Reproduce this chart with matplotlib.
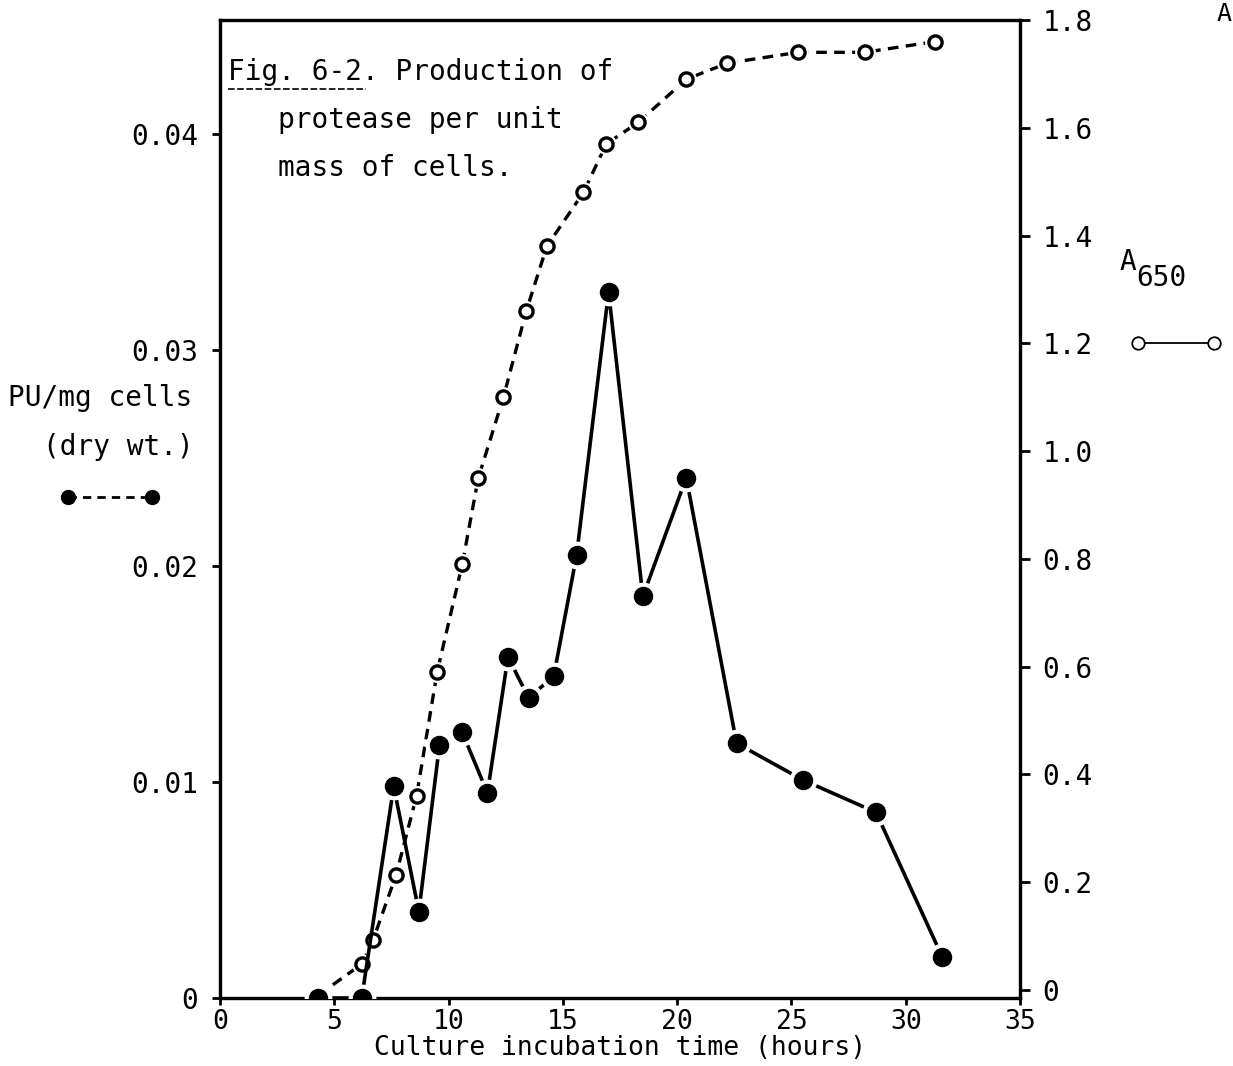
import matplotlib
matplotlib.use("Agg")
import matplotlib.pyplot as plt
from matplotlib.lines import Line2D

# ---- data ----
# filled circles, solid line (left axis, PU/mg cells)
pu_hours = [4.3, 6.2, 7.6, 8.7, 9.6, 10.6, 11.7, 12.6, 13.5, 14.6, 15.6, 17.0,
            18.5, 20.4, 22.6, 25.5, 28.7, 31.6]
pu_values = [0.0, 0.0, 0.0098, 0.0040, 0.0117, 0.0123, 0.0095, 0.0158, 0.0139,
             0.0149, 0.0205, 0.0327, 0.0186, 0.0241, 0.0118, 0.0101, 0.0086, 0.0019]

# open circles, dashed line (right axis, A650)
a_hours = [4.3, 6.2, 6.7, 7.7, 8.6, 9.5, 10.6, 11.3, 12.4, 13.4, 14.3, 15.9,
           16.9, 18.3, 20.4, 22.2, 25.3, 28.2, 31.3]
a_values = [-0.01, 0.048, 0.093, 0.213, 0.36, 0.59, 0.79, 0.95, 1.10, 1.26, 1.38,
            1.48, 1.57, 1.61, 1.69, 1.72, 1.74, 1.74, 1.76]

x_ticks = [0, 5, 10, 15, 20, 25, 30, 35]
left_ticks = [0, 0.01, 0.02, 0.03, 0.04]
left_labels = ["0", "0.01", "0.02", "0.03", "0.04"]
right_ticks = [0, 0.2, 0.4, 0.6, 0.8, 1.0, 1.2, 1.4, 1.6, 1.8]
right_labels = ["0", "0.2", "0.4", "0.6", "0.8", "1.0", "1.2", "1.4", "1.6", "1.8"]

FONT = "DejaVu Sans Mono"
plt.rcParams["font.family"] = [FONT, "DejaVu Sans"]

W, H = 1233, 1066
fig = plt.figure(figsize=(W / 100, H / 100), dpi=100)
fig.patch.set_facecolor("white")

def fx(px):
    return px / W

def fy(py):
    return 1 - py / H

ax = fig.add_axes([fx(220), fy(998), fx(1020) - fx(220), fy(20) - fy(998)])
ax2 = ax.twinx()

ax.set_xlim(0, 35)
ax.set_ylim(0, 0.0453)
ax2.set_ylim(-0.015, 1.8)

for a in (ax, ax2):
    for s in a.spines.values():
        s.set_linewidth(2.3)
        s.set_color("black")

# solid line with filled circles (left axis)
ax.plot(pu_hours, pu_values, color="black", lw=2.6, solid_capstyle="butt", zorder=3)
ax.plot(pu_hours, pu_values, "o", ms=19, mfc="white", mec="white", zorder=4)
ax.plot(pu_hours, pu_values, "o", ms=13, mfc="black", mec="black", zorder=5)

# dashed line with open circles (right axis)
ax2.plot(a_hours, a_values, color="black", lw=2.4, dashes=(3.2, 2.2), zorder=3)
ax2.plot(a_hours[1:], a_values[1:], "o", ms=14, mfc="white", mec="white", zorder=4)
ax2.plot(a_hours[1:], a_values[1:], "o", ms=9.5, mfc="white", mec="black", mew=2.4, zorder=5)
ax2.set_zorder(ax.get_zorder() - 1)
ax.patch.set_visible(False)

ax.set_xticks(x_ticks)
ax.set_xticklabels([str(t) for t in x_ticks], fontsize=19)
ax.set_yticks(left_ticks)
ax.set_yticklabels(left_labels, fontsize=20)
ax2.set_yticks(right_ticks)
ax2.set_yticklabels(right_labels, fontsize=20)

ax.tick_params(axis="x", direction="out", length=5, width=2, pad=3)
ax.tick_params(axis="y", direction="out", length=6, width=2, pad=10)
ax2.tick_params(axis="y", direction="out", length=7, width=2, pad=9)

ax.set_xlabel("Culture incubation time (hours)", fontsize=19, labelpad=0)

# in-plot caption
ax.text(fx(228), fy(72), "Fig. 6-2. Production of", transform=fig.transFigure,
        fontsize=20, ha="left", va="center")
ax.text(fx(278), fy(120), "protease per unit", transform=fig.transFigure,
        fontsize=20, ha="left", va="center")
ax.text(fx(278), fy(168), "mass of cells.", transform=fig.transFigure,
        fontsize=20, ha="left", va="center")
fig.add_artist(Line2D([fx(228), fx(366)], [fy(89), fy(89)], transform=fig.transFigure,
                      color="black", lw=1.2, dashes=(4, 1.5)))

# left axis title & key
fig.text(fx(100), fy(398), "PU/mg cells", fontsize=20, ha="center", va="center")
fig.text(fx(118), fy(447), "(dry wt.)", fontsize=20, ha="center", va="center")
fig.add_artist(Line2D([fx(68), fx(152)], [fy(497), fy(497)], transform=fig.transFigure,
                      color="black", lw=2.0, dashes=(3, 2.2)))
fig.add_artist(Line2D([fx(68), fx(152)], [fy(497), fy(497)], transform=fig.transFigure,
                      ls="none", marker="o", ms=10, mfc="black", mec="black"))

# right axis title & key
fig.text(fx(1120), fy(262), "A", fontsize=20, ha="left", va="center")
fig.text(fx(1136), fy(278), "650", fontsize=20, ha="left", va="center")
fig.add_artist(Line2D([fx(1140), fx(1212)], [fy(343), fy(343)], transform=fig.transFigure,
                      color="black", lw=1.3))
fig.add_artist(Line2D([fx(1138), fx(1214)], [fy(343), fy(343)], transform=fig.transFigure,
                      ls="none", marker="o", ms=9, mfc="white", mec="black", mew=1.3))

# letter at top-right edge (cut by the page edge in the reference)
fig.text(fx(1217), fy(14), "A", fontsize=18, ha="left", va="center")

fig.savefig("out.png", dpi=100, facecolor="white")
